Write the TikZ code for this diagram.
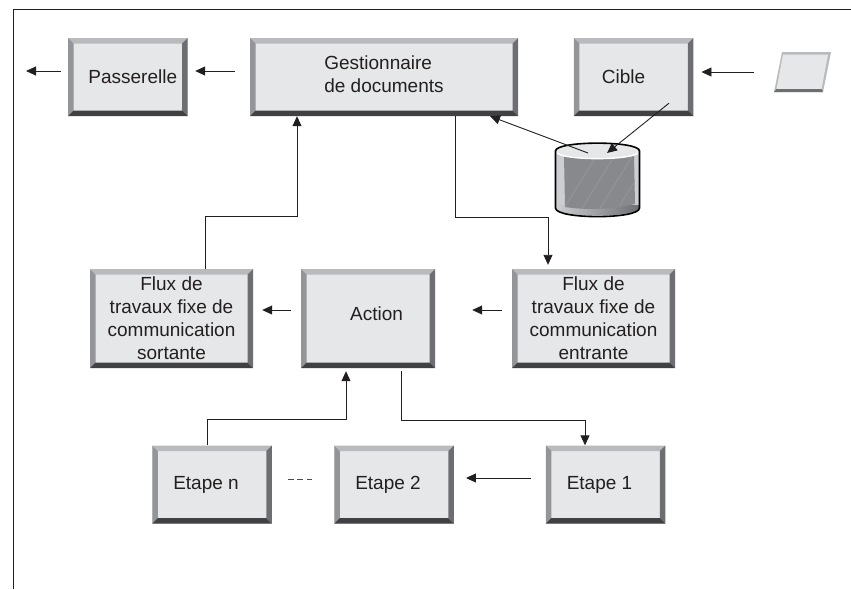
\documentclass[tikz,border=0pt]{standalone}
\usepackage{fontspec}
\setmainfont{Liberation Sans}
\usetikzlibrary{calc,arrows.meta}

\definecolor{boxface}{HTML}{E6E7E9}
\definecolor{bevtop}{HTML}{B9BABD}
\definecolor{bevleft}{HTML}{939598}
\definecolor{bevright}{HTML}{6D6E71}
\definecolor{bevbottom}{HTML}{414042}
\definecolor{ink}{HTML}{231F20}

\tikzset{
  bevelbox/.style = {rectangle, fill = boxface, text = ink, inner sep = 0pt, align = center,
    path picture = {
      \coordinate (nw) at (path picture bounding box.north west);
      \coordinate (ne) at (path picture bounding box.north east);
      \coordinate (sw) at (path picture bounding box.south west);
      \coordinate (se) at (path picture bounding box.south east);
      \fill[bevtop] (nw) -- (ne) -- ++(-5.5pt,-5.5pt) -- ($(nw)+(5.5pt,-5.5pt)$) -- cycle;
      \fill[bevleft] (nw) -- (sw) -- ++(5.5pt,5.5pt) -- ($(nw)+(5.5pt,-5.5pt)$) -- cycle;
      \fill[bevright] (ne) -- (se) -- ++(-5.5pt,5.5pt) -- ($(ne)+(-5.5pt,-5.5pt)$) -- cycle;
      \fill[bevbottom] (sw) -- (se) -- ++(-5.5pt,5.5pt) -- ($(sw)+(5.5pt,5.5pt)$) -- cycle;
    }},
  smallbox/.style = {bevelbox, minimum width = 119.5pt, minimum height = 78pt},
  flowbox/.style = {bevelbox, minimum width = 163pt, minimum height = 99pt},
  conn/.style = {draw = ink, line width = 0.9pt, -{Triangle[length = 10pt, width = 9pt]}}
}

\begin{document}
\begin{tikzpicture}[x = 1pt, y = -1pt, font = \fontsize{19}{23}\selectfont]
  \useasboundingbox (0,0) rectangle (851,589);
  \draw[ink, line width = 1pt] (851,9.5) -- (13.5,9.5) -- (13.5,589);

  % top row
  \node[smallbox] (pass) at (127.75,77) {\hspace*{10pt}Passerelle};
  \node[bevelbox, minimum width = 268pt, minimum height = 78pt, align = left] (gest) at (384,77)
    {Gestionnaire\\ de documents\\[-17pt]\mbox{}};
  \node[smallbox] (cible) at (633.5,77) {\hspace*{-20pt}Cible};
  \coordinate (out) at (26,71);

  % document
  \fill[bevtop] (782,52) -- (831,52) -- (823,92) -- (774,92) -- cycle;
  \fill[boxface] (783,54.5) -- (828,54.5) -- (821.5,89) -- (776.5,89) -- cycle;
  \fill[bevright] (776.5,89) -- (821.5,89) -- (823,92) -- (774,92) -- cycle;
  \node[minimum width = 48pt, minimum height = 40pt, inner sep = 0pt] (doc) at (802,72) {};

  % database
  \path[fill = boxface!70!bevleft]
    (555.5,151) -- (555.5,208) .. controls (555.5,219) and (639.5,219) .. (639.5,208) -- (639.5,151) -- cycle;
  \shade[left color = boxface!70!bevleft, right color = bevright]
    (556,205) -- (639,205) -- (639,208) .. controls (639,218) and (556,218) .. (556,208) -- cycle;
  \begin{scope}
    \clip (564,155) -- (634,155) -- (635,204) .. controls (610,210) and (585,210) .. (565,207) -- cycle;
    \fill[bevleft!92!black] (560,150) rectangle (640,215);
    \foreach \i in {0,18,...,72}
      \draw[bevleft, line width = 1pt] (560+\i,215) -- (600+\i,150);
  \end{scope}
  \fill[boxface] (555.5,151) .. controls (555.5,140.5) and (639.5,140.5) .. (639.5,151)
    .. controls (639.5,161.5) and (555.5,161.5) .. (555.5,151) -- cycle;
  \draw[white, line width = 1.4pt] (557,153) .. controls (565,160.5) and (630,160.5) .. (638,153);
  \draw[black, line width = 1.6pt]
    (555.5,151) -- (555.5,208) .. controls (555.5,219.5) and (639.5,219.5) .. (639.5,208) -- (639.5,151)
    .. controls (639.5,140.5) and (555.5,140.5) .. (555.5,151) -- cycle;
  \coordinate (dbout) at (588,153);
  \coordinate (dbin) at (607,153);

  % middle row
  \node[flowbox] (fluxs) at (171.5,318.5) {Flux de\\ travaux fixe de\\ communication\\ sortante};
  \node[bevelbox, minimum width = 134pt, minimum height = 99pt] (action) at (368,318.5)
    {\raisebox{10pt}{\hspace*{17pt}Action}};
  \node[flowbox] (fluxe) at (593.5,318.5) {Flux de\\ travaux fixe de\\ communication\\ entrante};

  % bottom row
  \node[smallbox] (etapen) at (212,484.5) {\hspace*{-12pt}Etape n};
  \node[smallbox] (etape2) at (394,484.5) {\hspace*{-12pt}Etape 2};
  \node[smallbox] (etape1) at (605.5,484.5) {\hspace*{-12pt}Etape 1};

  % connectors
  \draw[conn, shorten <= 7pt] ([yshift = 6pt]pass.west) -- (out);
  \draw[conn, shorten <= 15pt, shorten >= 7.5pt] ([yshift = 6pt]gest.west) -- ([yshift = 6pt]pass.east);
  \draw[conn, shorten <= 24pt, shorten >= 8pt] (doc.west) -- ([yshift = 5pt]cible.east);
  \draw[conn] (dbout) -- ([xshift = 106pt]gest.south);
  \draw[conn] ([xshift = 35.5pt, yshift = 13pt]cible.south) -- (dbin);
  \draw[conn] ([xshift = 33.5pt]fluxs.north) -- ++(0,-52) -| ([xshift = -87pt]gest.south);
  \draw[conn, shorten >= 4pt] ([xshift = 71pt]gest.south) -- ++(0,101) -| ([xshift = -45.5pt]fluxe.north);
  \draw[conn, shorten <= 10pt, shorten >= 37pt] ([yshift = 8.5pt]fluxe.west) -- ([yshift = 8.5pt]action.east);
  \draw[conn, shorten <= 10pt, shorten >= 9pt] ([yshift = 8.5pt]action.west) -- ([yshift = 8.5pt]fluxs.east);
  \draw[conn, shorten <= 3pt] ([xshift = 33pt]action.south) -- ++(0,52) -| ([xshift = -20.5pt]etape1.north);
  \draw[conn, shorten >= 3pt] ([xshift = -5pt]etapen.north) -- ++(0,-26) -| ([xshift = -22pt]action.south);
  \draw[conn, shorten <= 15pt, shorten >= 12pt] ([yshift = 6.5pt]etape1.west) -- ([yshift = 6.5pt]etape2.east);
  \draw[ink!80, line width = 0.8pt, dash pattern = on 6pt off 3.5pt, shorten <= 16pt, shorten >= 22pt]
    ([yshift = 5.5pt]etapen.east) -- ([yshift = 5.5pt]etape2.west);
\end{tikzpicture}
\end{document}
